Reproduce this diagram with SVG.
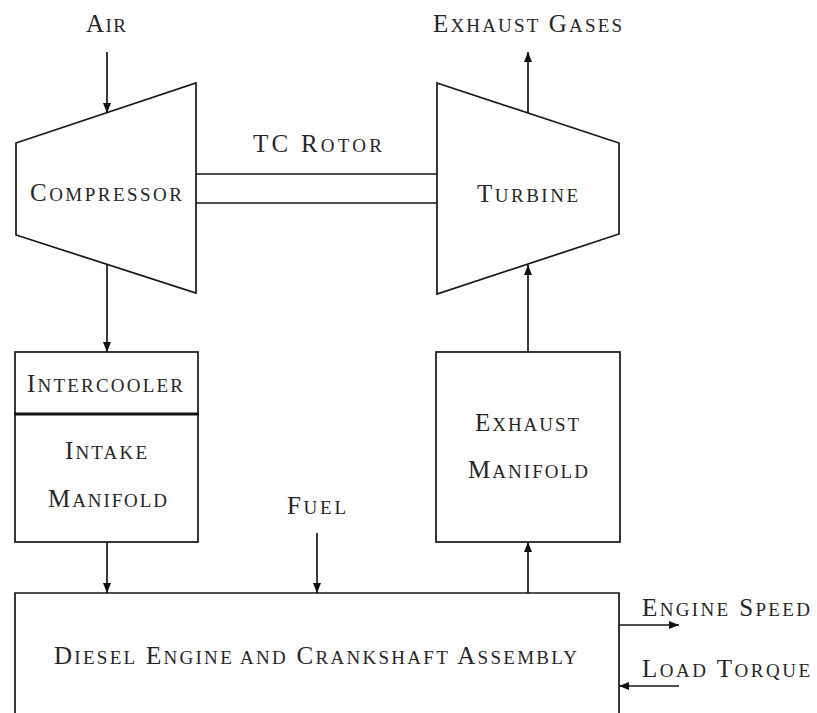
<svg xmlns="http://www.w3.org/2000/svg" width="817" height="713" viewBox="0 0 817 713">
  <style>
    .ln { fill: none; stroke: #161616; stroke-width: 1.7; stroke-linejoin: miter; }
    .thick { fill: none; stroke: #111; stroke-width: 3; }
    .lbl { font-family: "Liberation Serif", "DejaVu Serif", serif; font-size: 25px; fill: #262626; }
    .sc { font-size: 19px; }
    .flow { fill: none; stroke: #161616; stroke-width: 1.7; marker-end: url(#head); }
  </style>
  <defs>
    <marker id="head" viewBox="0 0 10 8" refX="10" refY="4" markerWidth="10" markerHeight="8" markerUnits="userSpaceOnUse" orient="auto">
      <path d="M0,0 L10,4 L0,8 Z" fill="#111"/>
    </marker>
  </defs>
  <rect width="817" height="713" fill="#fff"/>

  <!-- labels outside the blocks -->
  <g id="air-label">
    <text class="lbl" x="86" y="32" textLength="40" lengthAdjust="spacing">A<tspan class="sc">IR</tspan></text>
  </g>
  <g id="exhaust-gases-label">
    <text class="lbl" x="433" y="32" textLength="189" lengthAdjust="spacing">E<tspan class="sc">XHAUST</tspan> G<tspan class="sc">ASES</tspan></text>
  </g>
  <g id="fuel-label">
    <text class="lbl" x="287" y="514" textLength="59" lengthAdjust="spacing">F<tspan class="sc">UEL</tspan></text>
  </g>
  <g id="engine-speed-label">
    <text class="lbl" x="642" y="616" textLength="168" lengthAdjust="spacing">E<tspan class="sc">NGINE</tspan> S<tspan class="sc">PEED</tspan></text>
  </g>
  <g id="load-torque-label">
    <text class="lbl" x="642" y="677" textLength="168" lengthAdjust="spacing">L<tspan class="sc">OAD</tspan> T<tspan class="sc">ORQUE</tspan></text>
  </g>

  <!-- compressor -->
  <g id="compressor">
    <polygon class="ln" points="16,143 196,83 196,293 16,235"/>
    <text class="lbl" x="30" y="201" textLength="152" lengthAdjust="spacing">C<tspan class="sc">OMPRESSOR</tspan></text>
  </g>

  <!-- turbine -->
  <g id="turbine">
    <polygon class="ln" points="437,83 619,143 619,234 437,294"/>
    <text class="lbl" x="477" y="202" textLength="101" lengthAdjust="spacing">T<tspan class="sc">URBINE</tspan></text>
  </g>

  <!-- shaft between compressor and turbine -->
  <g id="tc-rotor">
    <line class="ln" x1="196" y1="174" x2="437" y2="174"/>
    <line class="ln" x1="196" y1="203" x2="437" y2="203"/>
    <text class="lbl" x="253" y="152" textLength="129" lengthAdjust="spacing">TC R<tspan class="sc">OTOR</tspan></text>
  </g>

  <!-- intercooler stacked on intake manifold -->
  <g id="intercooler">
    <rect class="ln" x="15" y="352" width="183" height="62"/>
    <text class="lbl" x="27" y="392" textLength="156" lengthAdjust="spacing">I<tspan class="sc">NTERCOOLER</tspan></text>
  </g>
  <g id="intake-manifold">
    <rect class="ln" x="15" y="414" width="183" height="128"/>
    <line class="thick" x1="14" y1="414" x2="199" y2="414"/>
    <text class="lbl" x="65" y="459" textLength="82" lengthAdjust="spacing">I<tspan class="sc">NTAKE</tspan></text>
    <text class="lbl" x="48" y="507" textLength="119" lengthAdjust="spacing">M<tspan class="sc">ANIFOLD</tspan></text>
  </g>

  <!-- exhaust manifold -->
  <g id="exhaust-manifold">
    <rect class="ln" x="436" y="352" width="184" height="190"/>
    <text class="lbl" x="475" y="431" textLength="104" lengthAdjust="spacing">E<tspan class="sc">XHAUST</tspan></text>
    <text class="lbl" x="468" y="478" textLength="120" lengthAdjust="spacing">M<tspan class="sc">ANIFOLD</tspan></text>
  </g>

  <!-- engine block, open at the bottom edge -->
  <g id="diesel-engine">
    <path class="ln" d="M15,713 V593 H619 V713"/>
    <text class="lbl" x="54" y="664" textLength="523" lengthAdjust="spacing">D<tspan class="sc">IESEL</tspan> E<tspan class="sc">NGINE AND</tspan> C<tspan class="sc">RANKSHAFT</tspan> A<tspan class="sc">SSEMBLY</tspan></text>
  </g>

  <!-- flow connectors -->
  <g id="connectors">
    <line class="flow" x1="107" y1="52" x2="107" y2="113"/>
    <line class="flow" x1="528" y1="113" x2="528" y2="52"/>
    <line class="flow" x1="107" y1="264" x2="107" y2="352"/>
    <line class="flow" x1="528" y1="352" x2="528" y2="265"/>
    <line class="flow" x1="107" y1="542" x2="107" y2="593"/>
    <line class="flow" x1="317" y1="533" x2="317" y2="593"/>
    <line class="flow" x1="528" y1="593" x2="528" y2="542"/>
    <line class="flow" x1="619" y1="625" x2="679" y2="625"/>
    <line class="flow" x1="679" y1="686" x2="619" y2="686"/>
  </g>
</svg>
